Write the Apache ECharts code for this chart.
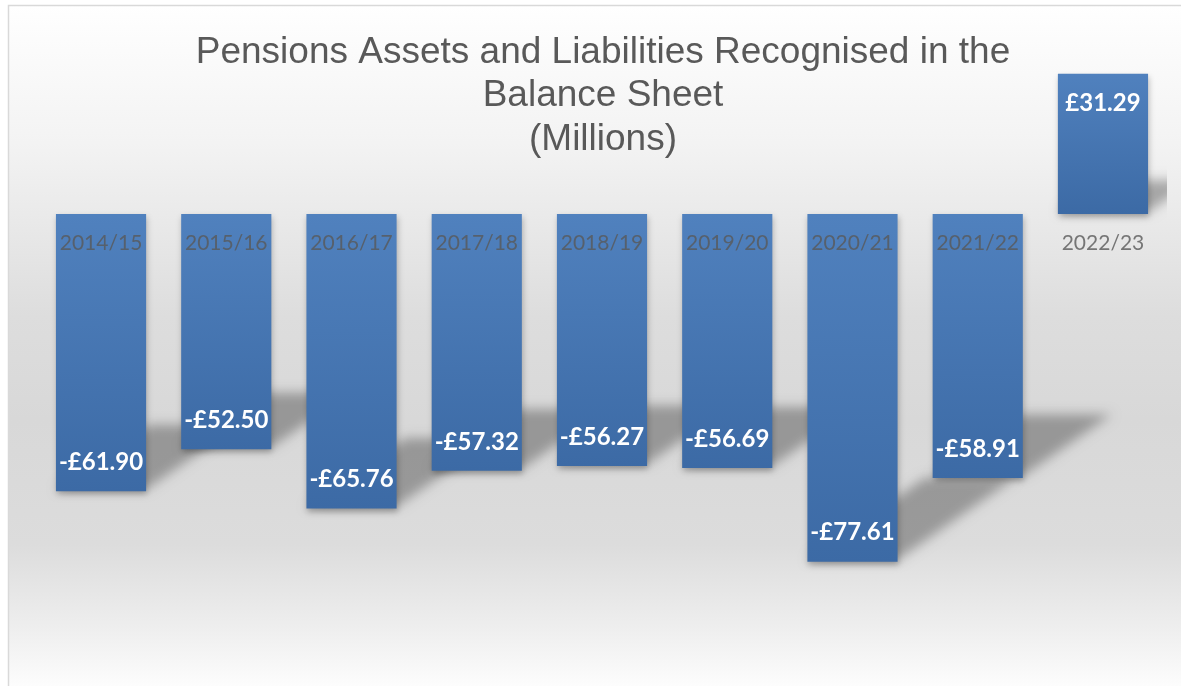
<!DOCTYPE html>
<html>
<head>
<meta charset="utf-8">
<script src="https://cdn.jsdelivr.net/npm/echarts@6/dist/echarts.min.js"></script>
<style>html,body{margin:0;padding:0;background:#fff;}#c{width:1181px;height:686px;}</style>
</head>
<body>
<div id="c"></div>
<script>
const titleText = 'Pensions Assets and Liabilities Recognised in the\nBalance Sheet\n(Millions)';
const categories = ['2014/15','2015/16','2016/17','2017/18','2018/19','2019/20','2020/21','2021/22','2022/23'];
const values = [-61.90, -52.50, -65.76, -57.32, -56.27, -56.69, -77.61, -58.91, 31.29];

const chart = echarts.init(document.getElementById('c'), null, {renderer: 'canvas'});
const fmt = v => (v < 0 ? '-£' : '£') + Math.abs(v).toFixed(2);
const GAP = 0.28;

const barData = values.map(v => ({
  value: v,
  label: {position: v < 0 ? 'insideBottom' : 'insideTop'}
}));

const option = {
  animation: false,
  backgroundColor: '#ffffff',
  graphic: [
    {type: 'rect', z: -10, silent: true,
     shape: {x: 8.5, y: 5.5, width: 1180, height: 690},
     style: {
       fill: new echarts.graphic.LinearGradient(0, 0, 0, 1, [
         {offset: 0, color: '#ffffff'},
         {offset: 0.2, color: '#f3f3f3'},
         {offset: 0.45, color: '#dddddd'},
         {offset: 0.6, color: '#d8d8d8'},
         {offset: 0.78, color: '#dcdcdc'},
         {offset: 0.9, color: '#eeeeee'},
         {offset: 1, color: '#ffffff'}
       ]),
       stroke: '#d9d9d9', lineWidth: 1.5
     }}
  ],
  title: {
    text: titleText,
    left: 598,
    top: 26,
    textAlign: 'center',
    textStyle: {fontFamily: 'Liberation Sans', fontSize: 37, fontWeight: 'normal', color: '#595959', lineHeight: 43.5, align: 'center'}
  },
  grid: {left: 38.4, right: 15.4, top: 34.8, height: 627.2, containLabel: false, outerBoundsMode: 'none'},
  xAxis: {
    type: 'category',
    data: categories,
    axisLine: {show: false},
    axisTick: {show: false},
    axisLabel: {show: false}
  },
  yAxis: {
    type: 'value', min: -100, max: 40, show: true,
    axisLine: {show: false}, axisTick: {show: false}, axisLabel: {show: false},
    splitLine: {show: false}
  },
  series: [
    {
      type: 'custom',
      z: 1,
      clip: true,
      silent: true,
      data: values.map((v, i) => [i, v]),
      renderItem: function (params, api) {
        const i = api.value(0), v = api.value(1);
        const pv = api.coord([i, v]);
        const p0 = api.coord([i, 0]);
        const w = api.size([1, 0])[0] * (1 - GAP);
        const x0 = pv[0] - w / 2, x1 = pv[0] + w / 2;
        const yb = Math.max(pv[1], p0[1]);
        const h = Math.abs(pv[1] - p0[1]);
        const dy = 0.24 * h, dx = 1.4 * dy;
        const off = 3000;
        return {
          type: 'polygon',
          shape: {points: [[x0 - off, yb - 2], [x1 - off, yb - 2], [x1 + dx - off, yb - dy], [x0 + dx - off, yb - dy]]},
          style: {fill: '#000', shadowBlur: 12, shadowColor: 'rgba(0,0,0,0.3)', shadowOffsetX: off, shadowOffsetY: 0}
        };
      }
    },
    {
      type: 'bar',
      z: 2,
      data: barData,
      barCategoryGap: '28%',
      itemStyle: {
        color: new echarts.graphic.LinearGradient(0, 0, 0, 1, [
          {offset: 0, color: '#5081be'},
          {offset: 1, color: '#3c6aa5'}
        ]),
        shadowBlur: 6, shadowColor: 'rgba(0,0,0,0.25)', shadowOffsetY: 3, shadowOffsetX: 1
      },
      label: {
        show: true,
        distance: 17,
        formatter: p => fmt(p.value),
        fontFamily: 'Lato', fontWeight: 'bold', fontSize: 24, color: '#ffffff'
      }
    },
    {
      type: 'scatter',
      z: 10,
      silent: true,
      symbolSize: 0,
      data: categories.map((c, i) => [i, 0]),
      label: {
        show: true,
        position: 'bottom',
        distance: 19,
        formatter: p => categories[p.dataIndex],
        fontFamily: 'Lato', fontSize: 21, color: '#595959'
      }
    }
  ]
};
chart.setOption(option);
</script>
</body>
</html>
